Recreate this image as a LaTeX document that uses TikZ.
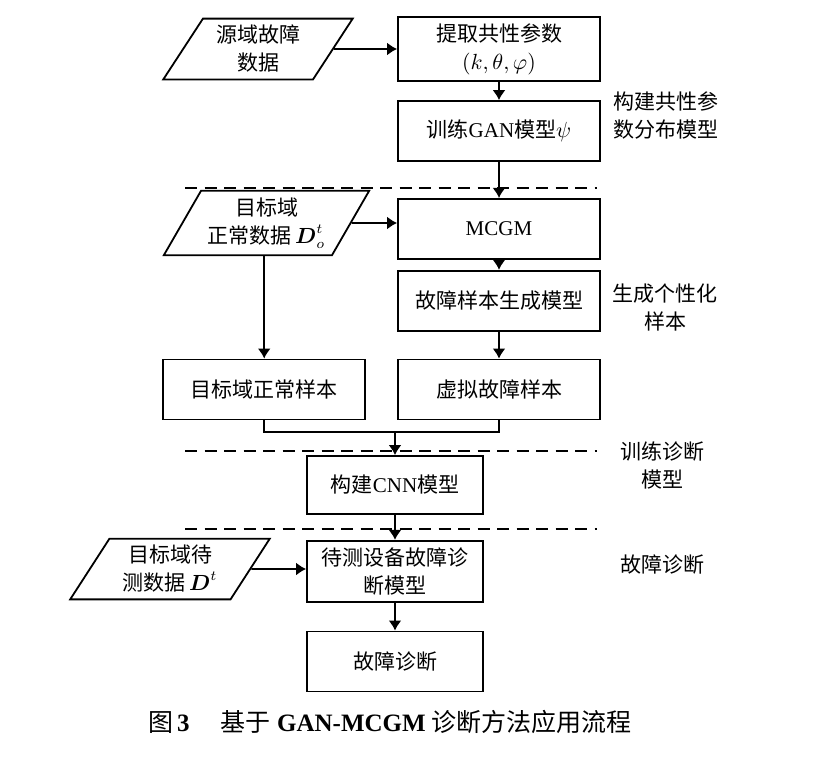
\documentclass[tikz,border=0pt]{standalone}
\usepackage{amsmath}
\usepackage{fontspec}
\setmainfont{Liberation Serif}
\newfontfamily\cjk{Noto Sans CJK SC}
\newcommand{\zh}[1]{{\cjk #1}}
\usetikzlibrary{shapes.geometric, arrows.meta, positioning}
\tikzstyle{arrow} = [line width=0.9pt,->,>={Latex[length=5pt,width=6.5pt]}]
\tikzstyle{block} = [rectangle, draw, line width=0.9pt, align=center, minimum width=101pt, minimum height=30pt, font=\fontsize{10.5}{14}\selectfont]
\tikzstyle{data} = [trapezium, trapezium left angle=60, trapezium right angle=120, trapezium stretches=true, draw, line width=0.9pt, align=center, minimum width=97pt, minimum height=29.5pt, font=\fontsize{10.5}{14}\selectfont]
\tikzstyle{note} = [align=center, font=\fontsize{10.5}{14}\selectfont]
\tikzstyle{sep} = [line width=0.8pt, dash pattern=on 6pt off 3.75pt]

\begin{document}
\begin{tikzpicture}[x=0.5pt, y=-0.5pt]
    \useasboundingbox (0,0) rectangle (824,756);
    % Nodes
    \node (extract) [block] at (499,49) {\zh{提取共性参数}\\$(k,\theta,\varphi)$};
    \node (gan) [block, below=9pt of extract] {\zh{训练}GAN\zh{模型}$\psi$};
    \node (mcgm) [block, below=18pt of gan] {MCGM};
    \node (genmodel) [block, below=5pt of mcgm] {\zh{故障样本生成模型}};
    \node (virtual) [block, below=13.5pt of genmodel] {\zh{虚拟故障样本}};
    \node (normsamp) [block, left=15.5pt of virtual] {\zh{目标域正常样本}};
    \node (srcdata) [data, minimum width=95pt] at (258,49) {\zh{源域故障}\\\zh{数据}};
    \node (tgtdata) [data] at (266.5,223) {\zh{目标域}\\\zh{正常数据}\,$\boldsymbol{D}_o^t$};
    \node (cnn) [block, minimum width=88pt, minimum height=29pt] at (395,485) {\zh{构建}CNN\zh{模型}};
    \node (diagmodel) [block, minimum width=88pt, below=12.5pt of cnn] {\zh{待测设备故障诊}\\\zh{断模型}};
    \node (diag) [block, minimum width=88pt, below=14pt of diagmodel] {\zh{故障诊断}};
    \node (testdata) [data, minimum width=100pt] at (170,569) {\zh{目标域待}\\\zh{测数据}\,$\boldsymbol{D}^t$};

    % Stage labels
    \node (lbl1) [note] at (665.5,115.5) {\zh{构建共性参}\\\zh{数分布模型}};
    \node (lbl2) [note] at (665,307.5) {\zh{生成个性化}\\\zh{样本}};
    \node (lbl3) [note] at (662,465.5) {\zh{训练诊断}\\\zh{模型}};
    \node (lbl4) [note] at (662,565) {\zh{故障诊断}};
    \node (caption) [font=\fontsize{12.5}{14}\selectfont] at (390,722) {\zh{图}\,\textbf{3}\quad\ \zh{基于} \textbf{GAN-MCGM} \zh{诊断方法应用流程}};

    % Separators
    \coordinate (s1a) at (185,188); \coordinate (s1b) at (597,188);
    \coordinate (s2a) at (185,451); \coordinate (s2b) at (597,451);
    \coordinate (s3a) at (185,529); \coordinate (s3b) at (597,529);
    \draw [sep] (s1a) -- (s1b);
    \draw [sep] (s2a) -- (s2b);
    \draw [sep] (s3a) -- (s3b);

    % Arrows
    \draw [arrow] (srcdata) -- (srcdata -| extract.west);
    \draw [arrow] (extract) -- (gan);
    \draw [arrow] (gan) -- (mcgm);
    \draw [arrow] (tgtdata) -- (tgtdata -| mcgm.west);
    \draw [arrow] (mcgm) -- (genmodel);
    \draw [arrow] (genmodel) -- (virtual);
    \draw [arrow] (normsamp.north |- tgtdata.south) -- (normsamp);
    \coordinate (join) at (395,432);
    \draw [line width=0.9pt] (normsamp) |- (join) -| (virtual);
    \draw [arrow] (join) -- (cnn);
    \draw [arrow] (cnn) -- (diagmodel);
    \draw [arrow] (testdata) -- (testdata -| diagmodel.west);
    \draw [arrow] (diagmodel) -- (diag);
\end{tikzpicture}
\end{document}
